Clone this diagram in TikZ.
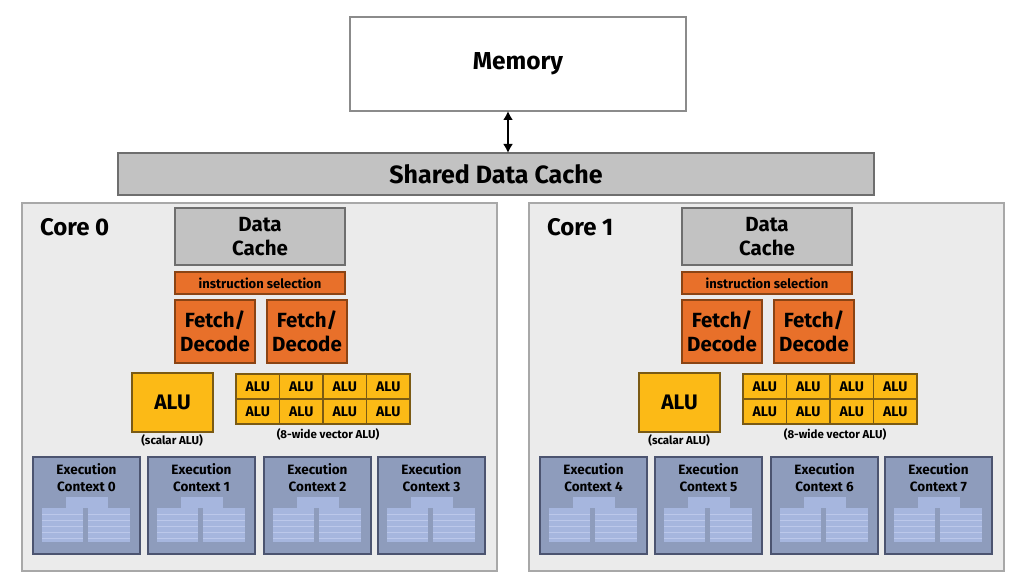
\documentclass[tikz,border=0pt]{standalone}
\usepackage{fontspec}
\setmainfont{Fira Sans}
\usetikzlibrary{arrows.meta}
\definecolor{corebg}{HTML}{EBEBEB}
\definecolor{coreln}{HTML}{A8A8A8}
\definecolor{cachebg}{HTML}{C2C2C2}
\definecolor{cacheln}{HTML}{6E6E6E}
\definecolor{orbg}{HTML}{E8702A}
\definecolor{orln}{HTML}{8A4414}
\definecolor{yebg}{HTML}{FCBA16}
\definecolor{yeln}{HTML}{7A5A14}
\definecolor{exbg}{HTML}{8E9CBC}
\definecolor{exln}{HTML}{4C5470}
\definecolor{expan}{HTML}{A6B6DE}
\definecolor{exlin}{HTML}{BCC8EA}
\begin{document}
\begin{tikzpicture}[x=1pt,y=-1pt,
  every node/.style={inner sep=0pt,outer sep=0pt,font=\bfseries},
  bx/.style={anchor=north west,draw,line width=1.5pt},
  membox/.style={bx,fill=white,draw=cacheln!80},
  cachebox/.style={bx,fill=cachebg,draw=cacheln,align=center},
  corebox/.style={bx,fill=corebg,draw=coreln},
  orbox/.style={bx,fill=orbg,draw=orln,align=center},
  yebox/.style={bx,fill=yebg,draw=yeln,align=center},
  exbox/.style={bx,fill=exbg,draw=exln},
  lbl/.style={font=\bfseries\fontsize{11.5}{12}\selectfont}
]
\useasboundingbox (0,0) rectangle (1024,588);
\fill[white] (0,0) rectangle (1024,588);
% memory and shared cache
\node[membox,minimum width=336pt,minimum height=94pt,font=\bfseries\fontsize{24.5}{26}\selectfont] (mem) at (350,17) {Memory};
\node[cachebox,minimum width=756pt,minimum height=42pt,font=\bfseries\fontsize{25}{26}\selectfont] (sdc) at (118,153) {Shared Data Cache};
\draw[line width=2.5pt,{Latex[length=9pt,width=10pt]}-{Latex[length=9pt,width=10pt]}] (mem.south -| 508,0) -- (sdc.north -| 508,0);
% cores
\foreach \c/\dx/\k in {0/0/0,1/507/4}{
\begin{scope}[xshift=\dx pt]
\node[corebox,minimum width=475pt,minimum height=368pt] (core\c) at (22,203) {};
\node[anchor=west,font=\bfseries\fontsize{24}{26}\selectfont] (corelbl\c) at (40,227) {Core \c};
\node[cachebox,minimum width=170pt,minimum height=57pt,font=\bfseries\fontsize{20.5}{24}\selectfont] (dc\c) at (175,208) {Data\\Cache};
\node[orbox,minimum width=170pt,minimum height=22pt,font=\bfseries\fontsize{13}{14}\selectfont] (is\c) at (175,272) {instruction selection};
\node[orbox,minimum width=80pt,minimum height=63pt,font=\bfseries\fontsize{20.5}{24}\selectfont] (fd\c a) at (175,300) {Fetch/\\Decode};
\node[orbox,minimum width=80pt,minimum height=63pt,font=\bfseries\fontsize{20.5}{24}\selectfont] (fd\c b) at (267,300) {Fetch/\\Decode};
\node[yebox,minimum width=81pt,minimum height=59pt,font=\bfseries\fontsize{21}{22}\selectfont] (salu\c) at (132,373) {ALU};
\node[lbl] (salul\c) at (172,440) {(scalar ALU)};
\foreach \i in {0,...,3}{
  \foreach \j in {0,1}{
    \node[yebox,minimum width=43.5pt,minimum height=25pt,font=\bfseries\fontsize{14}{15}\selectfont] (valu\c-\i-\j) at ({236+43.5*\i},{374+25*\j}) {ALU};
  }
}
\node[lbl] (valul\c) at (328,434) {(8-wide vector ALU)};
\foreach \x [count=\n from 0] in {33,148,264,378}{
  \pgfmathtruncatemacro{\num}{\k+\n}
  \node[exbox,minimum width=107pt,minimum height=97pt] (ex\c-\n) at (\x,457) {};
  \node[font=\bfseries\fontsize{13.5}{17}\selectfont,align=center] (ext\c-\n) at ({\x+53.5},478) {Execution\\Context \num};
  \fill[expan] ({\x+33},497) rectangle ({\x+75},508);
  \fill[expan] ({\x+9},508) rectangle ({\x+50},542);
  \fill[expan] ({\x+55},508) rectangle ({\x+97},542);
  \foreach \yy in {514,520,526,532,538}{
    \draw[exlin,line width=0.8pt] ({\x+9},\yy) -- ({\x+50},\yy);
    \draw[exlin,line width=0.8pt] ({\x+55},\yy) -- ({\x+97},\yy);
  }
}
\end{scope}
}
\end{tikzpicture}
\end{document}
